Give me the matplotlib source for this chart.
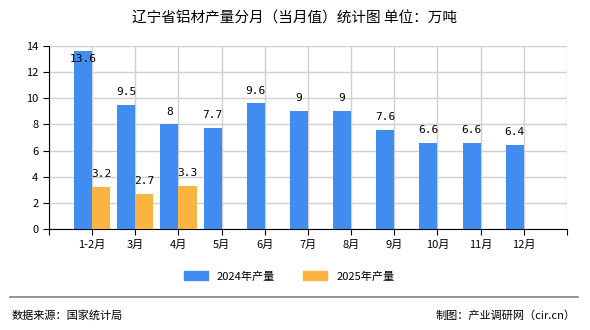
import matplotlib.pyplot as plt
from matplotlib.lines import Line2D

plt.rcParams['font.family'] = ['Noto Sans CJK SC', 'DejaVu Sans']

months = ["1-2月", "3月", "4月", "5月", "6月", "7月", "8月", "9月", "10月", "11月", "12月"]
v2024 = [13.6, 9.5, 8, 7.7, 9.6, 9, 9, 7.6, 6.6, 6.6, 6.4]
v2025 = [3.2, 2.7, 3.3]

blue = "#418cf0"
orange = "#fcb441"

fig = plt.figure(figsize=(5.9, 3.3), dpi=100)
ax = fig.add_axes([0.083, 0.306, 0.878, 0.555])

x = list(range(1, len(months) + 1))
w = 0.42
ax.bar([i - w / 2 for i in x], v2024, width=w, color=blue, label="2024年产量", zorder=3)
ax.bar([i + w / 2 for i in x[:len(v2025)]], v2025, width=w, color=orange, label="2025年产量", zorder=3)

for i, v in zip(x, v2024):
    if v > 13:
        ax.text(i - w / 2, v - 0.25, f"{v:g}", ha="center", va="top", fontsize=8,
                family="DejaVu Sans Mono", zorder=4)
    else:
        ax.text(i - w / 2, v + 0.6, f"{v:g}", ha="center", va="bottom", fontsize=8,
                family="DejaVu Sans Mono", zorder=4)
for i, v in zip(x, v2025):
    ax.text(i + w / 2, v + 0.6, f"{v:g}", ha="center", va="bottom", fontsize=8,
            family="DejaVu Sans Mono", zorder=4)

ax.set_xlim(0, 12)
ax.set_ylim(0, 14)
ax.set_yticks(range(0, 15, 2))
ax.set_xticks([0] + x + [12])
ax.set_xticklabels([""] + months + [""], fontsize=8)
ax.tick_params(axis="y", labelsize=8, length=4)
ax.tick_params(axis="x", length=4)
ax.grid(True, color="#d0d0d0", linewidth=1, zorder=0)
for s in ["top", "right"]:
    ax.spines[s].set_visible(False)
ax.spines["left"].set_color("black")
ax.spines["bottom"].set_color("black")

fig.text(0.5, 0.945, "辽宁省铝材产量分月（当月值）统计图 单位：万吨", ha="center", va="center", fontsize=10.5)

handles = [plt.Rectangle((0, 0), 1, 1, color=blue), plt.Rectangle((0, 0), 1, 1, color=orange)]
fig.legend(handles, ["2024年产量", "2025年产量"], loc="center", bbox_to_anchor=(0.49, 0.163),
           ncol=2, frameon=False, fontsize=8, handlelength=2.2, handleheight=0.8, columnspacing=2.5)

fig.add_artist(Line2D([0.017, 0.98], [0.1, 0.1], color="#808080", linewidth=1.2))
fig.text(0.02, 0.045, "数据来源：国家统计局", ha="left", va="center", fontsize=8)
fig.text(0.975, 0.045, "制图：产业调研网（cir.cn）", ha="right", va="center", fontsize=8)

fig.savefig("out.png", dpi=100)
